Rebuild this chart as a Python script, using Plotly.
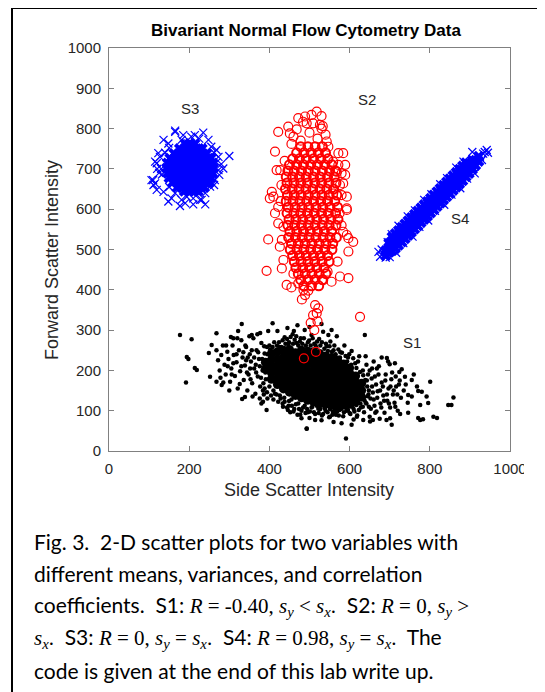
import plotly.graph_objects as go

# ---------------- data ----------------
# S1: black dots.  Dense core given as {X: [Y, ...]} columns, plus fringe/outlier points
S1_CORE = {
    390: [203, 220],
    405: [178, 194, 210, 226, 242],
    420: [165, 180, 196, 212, 228, 246],
    435: [154, 168, 184, 200, 216, 232, 250],
    450: [146, 160, 175, 190, 206, 222, 238, 252],
    465: [138, 152, 168, 182, 198, 212, 228, 244],
    480: [132, 146, 160, 176, 192, 206, 220, 236, 250],
    495: [126, 140, 156, 170, 186, 200, 216, 232, 248],
    510: [122, 136, 152, 168, 182, 198, 214, 230, 246],
    525: [118, 132, 148, 164, 178, 194, 210, 226, 242],
    540: [116, 130, 146, 160, 176, 190, 206, 222, 236],
    555: [114, 128, 142, 158, 172, 188, 202, 218, 232],
    570: [112, 126, 140, 156, 170, 184, 198, 214, 226],
    585: [114, 128, 142, 158, 172, 188, 204, 216],
    600: [116, 130, 146, 162, 178, 194, 206],
    615: [122, 138, 154, 170, 186],
    630: [134, 150, 168],
}
S1_POINTS = [
    (268, 250), (272, 225), (276, 200), (280, 238), (284, 262), (288, 214), (291, 190), (295, 246),
    (298, 228), (302, 172), (305, 205), (308, 262), (311, 238), (314, 186), (318, 220), (321, 155),
    (324, 250), (327, 198), (330, 275), (333, 232), (336, 176), (339, 212), (342, 258), (345, 150),
    (348, 190), (351, 240), (354, 222), (357, 168), (360, 280), (362, 205), (365, 142), (368, 250),
    (371, 185), (374, 228), (377, 160), (380, 268), (383, 200), (386, 140), (388, 242), (391, 178),
    (376, 130), (358, 135), (340, 262), (320, 280), (300, 150), (285, 170), (350, 285), (370, 290),
    (394, 258), (384, 150), (366, 214), (346, 232), (326, 166), (310, 218), (292, 262), (278, 182),
    (395, 130), (380, 118),
    (400, 262), (412, 270), (425, 258), (438, 282), (447, 265), (458, 290), (468, 268), (478, 280),
    (488, 300), (496, 270), (505, 288), (515, 262), (524, 278), (534, 296), (543, 260), (552, 272),
    (560, 250), (568, 285), (577, 245), (587, 262), (596, 232), (605, 248), (614, 218), (624, 235),
    (633, 200), (642, 214), (420, 298), (445, 305), (470, 312), (500, 308), (530, 315), (555, 300),
    (455, 250), (517, 256),
    (400, 180), (410, 150), (418, 140), (428, 130), (438, 122), (448, 112), (455, 128), (462, 104),
    (472, 118), (480, 100), (488, 112), (496, 96), (505, 108), (514, 92), (522, 105), (531, 88),
    (540, 100), (549, 84), (558, 98), (566, 90), (575, 102), (584, 86), (593, 100), (602, 92),
    (610, 104), (619, 88), (628, 108), (636, 96), (470, 90), (530, 76), (560, 72), (610, 78),
    (452, 96), (500, 82),
    (640, 120), (643, 175), (647, 140), (650, 200), (653, 105), (656, 160), (660, 128), (663, 185),
    (667, 98), (670, 148), (673, 210), (677, 118), (680, 170), (684, 138), (687, 95), (690, 190),
    (694, 125), (697, 155), (701, 108), (704, 178), (708, 140), (712, 120), (716, 160), (720, 100),
    (724, 196), (728, 132), (660, 222), (640, 235), (680, 232), (700, 215), (715, 185), (735, 150),
    (745, 120), (725, 175), (650, 85), (675, 80), (740, 165), (755, 135), (760, 190), (768, 160),
    (177, 288), (206, 277), (194, 233), (198, 228), (219, 201), (214, 206), (192, 170), (331, 315),
    (408, 317), (268, 292), (322, 298), (304, 283), (310, 280), (356, 288), (377, 293), (397, 298),
    (461, 298), (249, 243), (256, 263), (252, 184), (268, 172), (281, 164), (332, 129), (339, 134),
    (393, 102), (384, 122), (434, 110), (480, 81), (493, 56), (514, 77), (446, 102), (547, 288),
    (638, 288), (693, 231), (696, 222), (713, 218), (730, 203), (738, 184), (755, 176), (801, 172),
    (771, 149), (780, 147), (792, 135), (746, 139), (859, 133), (846, 114), (854, 114), (776, 114),
    (796, 119), (771, 82), (776, 77), (783, 79), (809, 85), (818, 82), (726, 92), (746, 95),
    (692, 77), (701, 81), (705, 65), (651, 73), (658, 77), (605, 65), (580, 69), (591, 31),
    (634, 77), (618, 85), (551, 85), (564, 97), (493, 55),
    (395, 240), (398, 225), (402, 252), (408, 258), (414, 248), (419, 262), (424, 270), (430, 258),
    (433, 275), (440, 266), (444, 278), (449, 270), (453, 283), (459, 266), (463, 276), (467, 285),
    (472, 262), (476, 272), (482, 266), (486, 280), (491, 262), (499, 274), (503, 262), (508, 280),
    (512, 266), (519, 272), (527, 262), (531, 270), (537, 254), (541, 266), (546, 248), (550, 260),
    (556, 246), (562, 262), (565, 240), (572, 252), (576, 232), (581, 244), (590, 236), (594, 222),
    (599, 240), (604, 214), (609, 230), (617, 206), (621, 222), (626, 196), (634, 188), (639, 176),
    (644, 160), (646, 190),
    (385, 168), (388, 155), (394, 146), (400, 160), (404, 138), (410, 128), (414, 142), (422, 122),
    (426, 138), (433, 118), (437, 132), (444, 108), (449, 124), (456, 112), (460, 98), (466, 116),
    (474, 104), (477, 90), (484, 108), (490, 94), (494, 104), (501, 98), (507, 110), (511, 96),
    (518, 112), (523, 94), (527, 104), (534, 92), (538, 106), (545, 96), (551, 104), (557, 90),
    (562, 106), (569, 98), (573, 88), (579, 104), (586, 96), (589, 108), (596, 102), (600, 94),
    (607, 110), (612, 98), (617, 114), (623, 102), (627, 118), (633, 110), (637, 126), (642, 118),
    (645, 136), (648, 150),
    (330, 210), (335, 245), (344, 195), (352, 205), (356, 250), (362, 232), (367, 195), (372, 245),
    (376, 210), (379, 182), (382, 228), (387, 260), (390, 195), (353, 178), (342, 225), (318, 240),
    (306, 190), (296, 210),
    (652, 130), (655, 180), (658, 145), (662, 112), (666, 165), (669, 132), (672, 190), (676, 150),
    (679, 108), (683, 160), (686, 125), (689, 175), (693, 140), (698, 118), (702, 160), (706, 195),
    (710, 150), (714, 110), (719, 140), (723, 165), (656, 205), (668, 205), (648, 110), (664, 95),
]

# S2: red open circles.  Dense core given as {Y: [X, ...]} rows, plus outer points
S2_CORE = {
    755: [478, 496, 514, 532],
    740: [468, 486, 504, 522, 540],
    725: [458, 475, 492, 510, 528, 546],
    710: [450, 468, 485, 503, 520, 538, 556],
    695: [446, 462, 480, 497, 514, 532, 550, 565],
    680: [442, 458, 475, 492, 510, 527, 545, 562],
    665: [444, 461, 478, 495, 513, 530, 548, 566],
    650: [440, 457, 474, 491, 508, 526, 543, 560],
    635: [445, 462, 479, 497, 514, 531, 549, 568],
    620: [442, 459, 476, 493, 510, 528, 545, 563],
    605: [447, 464, 481, 498, 516, 533, 551, 570],
    590: [444, 461, 478, 495, 512, 530, 547, 565],
    575: [449, 466, 483, 500, 518, 535, 553, 571],
    560: [446, 463, 480, 497, 514, 532, 549, 566],
    545: [451, 468, 485, 502, 520, 537, 555],
    530: [448, 465, 482, 499, 516, 534, 551, 567],
    515: [455, 472, 489, 506, 524, 541, 558],
    500: [452, 469, 486, 503, 520, 538, 556],
    485: [458, 475, 492, 510, 527, 545],
    470: [462, 479, 496, 513, 531, 549],
    455: [466, 483, 500, 518, 536],
    440: [472, 489, 506, 524, 541],
    425: [478, 496, 514, 532],
    410: [486, 505, 523],
}
S2_POINTS = [
    (489, 830), (505, 834), (530, 831), (518, 842), (493, 813), (509, 813), (526, 809), (533, 806),
    (447, 805), (422, 792), (468, 798), (451, 788), (472, 826), (484, 817), (414, 743), (543, 768),
    (547, 755), (572, 739), (584, 739), (559, 718), (572, 710), (589, 710), (418, 697), (427, 697),
    (568, 693), (580, 689), (589, 685), (406, 643), (410, 631), (401, 627), (559, 639), (580, 635),
    (593, 631), (576, 660), (584, 664), (593, 602), (422, 606), (414, 590), (593, 598), (397, 525),
    (597, 528), (609, 519), (584, 544), (593, 536), (597, 495), (393, 447), (435, 474), (431, 453),
    (576, 433), (597, 429), (555, 420), (534, 424), (443, 412), (455, 406), (472, 416), (485, 400),
    (497, 398), (489, 387), (481, 376), (514, 362), (522, 354), (518, 342), (509, 337), (626, 333),
    (426, 507), (431, 524), (422, 565), (435, 557), (486, 230), (516, 246), (512, 300), (503, 318),
    (520, 322), (460, 780), (478, 770), (500, 790), (520, 775), (540, 785), (455, 762), (530, 800),
    (438, 720), (430, 660), (575, 590), (580, 560), (428, 620), (570, 470), (460, 440), (545, 445),
]

# S3: blue crosses, round cloud.  Core {Y: [X, ...]} rows, plus outer points
S3_CORE = {
    762: [190, 202, 214],
    750: [176, 188, 200, 212, 224, 232],
    738: [162, 174, 186, 198, 210, 222, 234, 244],
    726: [152, 164, 176, 188, 200, 212, 224, 236, 248, 254],
    714: [146, 158, 170, 182, 194, 206, 218, 230, 242, 254, 259],
    702: [144, 156, 168, 180, 192, 204, 216, 228, 240, 252, 260],
    690: [146, 158, 170, 182, 194, 206, 218, 230, 242, 254, 258],
    678: [150, 162, 174, 186, 198, 210, 222, 234, 246, 255],
    666: [158, 170, 182, 194, 206, 218, 230, 242, 250],
    654: [170, 182, 194, 206, 218, 230, 238],
    645: [188, 200, 212, 222],
}
S3_POINTS = [
    (165, 792), (235, 790), (136, 772), (148, 763), (123, 739), (115, 718), (106, 672), (111, 660),
    (119, 648), (136, 643), (156, 627), (181, 623), (194, 631), (210, 627), (231, 623), (214, 784),
    (198, 763), (181, 772), (165, 795), (248, 772), (300, 732), (110, 672), (115, 664), (177, 608),
    (148, 619), (227, 623), (273, 697), (285, 701), (264, 672), (268, 747), (273, 730), (127, 730),
    (119, 714), (252, 656), (140, 740), (262, 740), (130, 700), (268, 716), (132, 686), (262, 660),
    (240, 640), (165, 640), (150, 655), (255, 755), (150, 752), (225, 775), (205, 780), (185, 784),
    (190, 615), (210, 612), (240, 612), (275, 685), (280, 712), (125, 690), (120, 700),
]

# S4: blue crosses, strongly correlated band.  Core {X: [Y, ...]} columns, plus outer points
S4_CORE = {
    690: [485, 497], 698: [493, 505, 515], 706: [497, 509, 521, 531], 714: [503, 515, 527, 539],
    722: [511, 523, 535, 547], 730: [519, 531, 543, 555], 738: [527, 539, 551, 563],
    746: [535, 547, 559, 571], 754: [543, 555, 567, 579], 762: [551, 563, 575, 587],
    770: [559, 571, 583, 595], 778: [567, 579, 591, 603], 786: [575, 587, 599, 611],
    794: [583, 595, 607, 619], 802: [591, 603, 615, 627], 810: [599, 611, 623, 635],
    818: [607, 619, 631, 643], 826: [615, 627, 639, 651], 834: [623, 635, 647, 659],
    842: [631, 643, 655, 667], 850: [639, 651, 663, 675], 858: [647, 659, 671, 683],
    866: [655, 667, 679, 691], 874: [663, 675, 687, 699], 882: [671, 683, 695, 707],
    890: [681, 693, 705, 715], 898: [689, 701, 713], 906: [699, 711, 721], 914: [709, 721],
    922: [719, 731],
}
S4_POINTS = [
    (676, 482), (684, 490), (672, 494), (690, 480), (942, 747), (933, 738), (925, 730), (937, 742),
    (930, 722), (680, 500), (945, 740),
    (705, 538), (722, 559), (745, 582), (763, 597), (786, 623), (804, 637), (826, 662), (843, 677),
    (866, 703), (884, 718), (906, 742),
    (700, 481), (716, 492), (734, 516), (757, 532), (774, 556), (796, 572), (813, 596), (836, 611),
    (854, 636), (876, 652), (893, 676), (912, 689),
    (695, 518), (712, 502), (730, 550), (750, 540), (770, 596), (790, 578), (810, 636), (830, 616),
    (850, 676), (870, 658), (890, 714), (908, 704),
]

GROUP_LABELS = ["S1", "S2", "S3", "S4"]
LABEL_X = [755, 643, 202, 875]
LABEL_Y = [269, 873, 851, 577]

X_TICKS = [0, 200, 400, 600, 800, 1000]
Y_TICKS = [0, 100, 200, 300, 400, 500, 600, 700, 800, 900, 1000]

TITLE = "Bivariant Normal Flow Cytometry Data"
X_LABEL = "Side Scatter Intensity"
Y_LABEL = "Forward Scatter Intensity"


def serif(t):
    return '<span style="font-family:Liberation Serif">' + t + '</span>'


SY = "<i>s<sub>y</sub></i>"
SX = "<i>s<sub>x</sub></i>"
CAPTION_LINES = [
    "Fig. 3.&nbsp; 2-D scatter plots for two variables with",
    "different means, variances, and correlation",
    "coefficients.&nbsp; S1: " + serif("<i>R</i> = -0.40, " + SY + " &lt; " + SX + ".")
    + "&nbsp; S2: " + serif("<i>R</i> = 0, " + SY + " &gt;"),
    serif(SX + ".") + "&nbsp; S3: " + serif("<i>R</i> = 0, " + SY + " = " + SX + ".")
    + "&nbsp; S4: " + serif("<i>R</i> = 0.98, " + SY + " = " + SX + ".") + "&nbsp; The",
    "code is given at the end of this lab write up.",
]


def cols_xy(d):
    xs, ys = [], []
    for k, vals in d.items():
        for v in vals:
            xs.append(k)
            ys.append(v)
    return xs, ys


def rows_xy(d):
    xs, ys = [], []
    for k, vals in d.items():
        for v in vals:
            xs.append(v)
            ys.append(k)
    return xs, ys


def pts_xy(p):
    return [a for a, b in p], [b for a, b in p]


# ---------------- figure ----------------
# The page body has an 8 px margin, so the figure is 8 px smaller and every
# position below is expressed in reference-picture pixels (rx, ry).
OFF = 8
W, H = 545 - OFF, 692 - OFF
PL, PT = 109 - OFF, 48 - OFF          # plot area in reference pixels: x 109..510, y 48..451
PR, PB = W - (510 - OFF), H - (451 - OFF)
PW, PH = W - PL - PR, H - PT - PB


def px(rx):
    return (rx - OFF - PL) / PW


def py(ry):
    return (H - PB - (ry - OFF)) / PH


fig = go.Figure()

BLACK, RED, BLUE = "#000000", "#ff0000", "#0000ff"

x, y = cols_xy(S1_CORE)
fig.add_trace(go.Scatter(x=x, y=y, mode="markers",
                         marker=dict(symbol="circle", size=9, color=BLACK, line=dict(width=0))))
x, y = pts_xy(S1_POINTS)
fig.add_trace(go.Scatter(x=x, y=y, mode="markers",
                         marker=dict(symbol="circle", size=4.5, color=BLACK, line=dict(width=0))))

x, y = rows_xy(S2_CORE)
fig.add_trace(go.Scatter(x=x, y=y, mode="markers",
                         marker=dict(symbol="circle-open", size=9, color=RED, line=dict(width=2.0, color=RED))))
x, y = pts_xy(S2_POINTS)
fig.add_trace(go.Scatter(x=x, y=y, mode="markers",
                         marker=dict(symbol="circle-open", size=9, color=RED, line=dict(width=1.2, color=RED))))

x, y = rows_xy(S3_CORE)
fig.add_trace(go.Scatter(x=x, y=y, mode="markers",
                         marker=dict(symbol="x", size=10, color=BLUE, line=dict(width=0))))
x, y = pts_xy(S3_POINTS)
fig.add_trace(go.Scatter(x=x, y=y, mode="markers",
                         marker=dict(symbol="x-thin-open", size=8, color=BLUE, line=dict(width=1.2, color=BLUE))))

x, y = cols_xy(S4_CORE)
fig.add_trace(go.Scatter(x=x, y=y, mode="markers",
                         marker=dict(symbol="x", size=10, color=BLUE, line=dict(width=0))))
x, y = pts_xy(S4_POINTS)
fig.add_trace(go.Scatter(x=x, y=y, mode="markers",
                         marker=dict(symbol="x-thin-open", size=8, color=BLUE, line=dict(width=1.2, color=BLUE))))

AXIS_COL = "#808080"
TICK_FONT = dict(family="Liberation Sans, Arial, sans-serif", size=15, color="#262626")
axis_common = dict(
    showgrid=False, zeroline=False, showline=True, linecolor=AXIS_COL, linewidth=1,
    mirror="ticks", ticks="inside", ticklen=5, tickwidth=1, tickcolor=AXIS_COL,
    tickfont=TICK_FONT, fixedrange=True,
)
fig.update_xaxes(range=[0, 1000], tickvals=X_TICKS, ticktext=[str(v) for v in X_TICKS],
                 ticklabelstandoff=4, **axis_common)
fig.update_yaxes(range=[0, 1000], tickvals=Y_TICKS, ticktext=[str(v) for v in Y_TICKS],
                 ticklabelstandoff=4, **axis_common)

annotations = []
for lab, lx, ly in zip(GROUP_LABELS, LABEL_X, LABEL_Y):
    annotations.append(dict(x=lx, y=ly, xref="x", yref="y", text=lab, showarrow=False,
                            font=dict(family="Liberation Sans, Arial", size=15, color="#262626")))

annotations.append(dict(x=px(305.5), y=py(31), xref="paper", yref="paper", text="<b>" + TITLE + "</b>",
                        showarrow=False, xanchor="center", yanchor="middle",
                        font=dict(family="Liberation Sans, Arial", size=17, color="#000000")))
annotations.append(dict(x=px(309), y=py(490), xref="paper", yref="paper", text=X_LABEL,
                        showarrow=False, xanchor="center", yanchor="middle",
                        font=dict(family="Liberation Sans, Arial", size=18, color="#262626")))
annotations.append(dict(x=px(52), y=py(260), xref="paper", yref="paper", text=Y_LABEL,
                        showarrow=False, xanchor="center", yanchor="middle", textangle=-90,
                        font=dict(family="Liberation Sans, Arial", size=18, color="#262626")))

CAP_Y = [541, 573, 606, 638, 670]
for line, cy in zip(CAPTION_LINES, CAP_Y):
    annotations.append(dict(x=px(32), y=py(cy), xref="paper", yref="paper", text=line,
                            showarrow=False, xanchor="left", yanchor="middle", align="left",
                            font=dict(family="Lato, Carlito, sans-serif", size=21, color="#000000")))

shapes = [
    # outer frame (left, top, right)
    dict(type="line", xref="paper", yref="paper", x0=px(12), x1=px(12), y0=py(700), y1=py(8),
         line=dict(color="#000000", width=2)),
    dict(type="line", xref="paper", yref="paper", x0=px(12), x1=px(541), y0=py(8), y1=py(8),
         line=dict(color="#000000", width=2)),
    dict(type="line", xref="paper", yref="paper", x0=px(541), x1=px(541), y0=py(700), y1=py(8),
         line=dict(color="#000000", width=2)),
    # the exported figure is clipped at its right edge, cutting the last tick label
    dict(type="rect", xref="paper", yref="paper", x0=px(524), x1=px(539), y0=py(456), y1=py(478),
         fillcolor="#ffffff", line=dict(width=0), layer="above"),
]

fig.update_layout(
    width=W, height=H, autosize=False,
    margin=dict(l=PL, r=PR, t=PT, b=PB, pad=0),
    paper_bgcolor="#ffffff", plot_bgcolor="#ffffff",
    showlegend=False, hovermode=False,
    annotations=annotations, shapes=shapes,
)

fig.write_html("out.html", config={"displayModeBar": False, "staticPlot": True})
